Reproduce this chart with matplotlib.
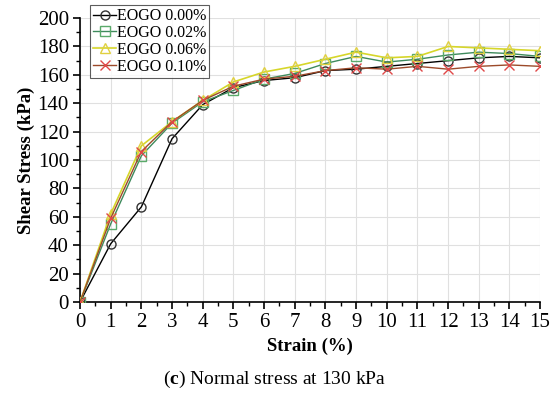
import matplotlib
matplotlib.use('Agg')
import matplotlib.pyplot as plt
from matplotlib.ticker import MultipleLocator

plt.rcParams['font.family'] = ['Liberation Serif', 'DejaVu Serif']
plt.rcParams['mathtext.fontset'] = 'custom'
plt.rcParams['mathtext.rm'] = 'Liberation Serif'
plt.rcParams['mathtext.bf'] = 'Liberation Serif:bold'

strain = [0, 1, 2, 3, 4, 5, 6, 7, 8, 9, 10, 11, 12, 13, 14, 15]
eogo_000 = [0, 41, 67, 115, 139, 151, 156, 158, 163, 164, 166, 168, 170, 172, 173, 172]
eogo_002 = [0, 55, 103, 126, 141, 149, 157, 161, 168, 173, 169, 171, 174, 176, 175, 173]
eogo_006 = [0, 62, 110, 127, 142, 155, 162, 166, 171, 176, 172, 173, 180, 179, 178, 177]
eogo_010 = [0, 59, 106, 127, 142, 152, 157, 159, 163, 165, 164, 166, 164, 166, 167, 166]
labels = ['EOGO 0.00%', 'EOGO 0.02%', 'EOGO 0.06%', 'EOGO 0.10%']

fig = plt.figure(figsize=(5.5, 3.93), dpi=100)
ax = fig.add_axes([0.1455, 0.2316, 0.8365, 0.7224])

ax.plot(strain, eogo_000, color='black', lw=1, marker='o', ms=6.5, mfc='none',
        mec='#333333', label=labels[0], zorder=3)
ax.plot(strain, eogo_002, color='#3e8a5c', lw=1, marker='s', ms=6.5, mfc='none',
        mec='#5aaa6a', label=labels[1], zorder=3)
ax.plot(strain, eogo_006, color='#d6d62a', lw=1.2, marker='^', ms=6.5, mfc='none',
        mec='#e0d040', label=labels[2], zorder=3)
ax.plot(strain, eogo_010, color='#9c4a2a', lw=1, marker='x', ms=6.5,
        mec='#e04848', label=labels[3], zorder=3)

ax.set_xlim(0, 15)
ax.set_ylim(0, 200)
ax.xaxis.set_major_locator(MultipleLocator(1))
ax.xaxis.set_minor_locator(MultipleLocator(0.5))
ax.yaxis.set_major_locator(MultipleLocator(20))
ax.yaxis.set_minor_locator(MultipleLocator(10))
ax.grid(True, which='major', color='#e0e0e0', lw=0.8)
ax.set_axisbelow(True)
for s in ['top', 'right']:
    ax.spines[s].set_visible(False)
ax.spines['left'].set_linewidth(1.2)
ax.spines['bottom'].set_linewidth(1.2)
ax.tick_params(which='major', length=5, width=1.2, labelsize=15, pad=3)
ax.tick_params(which='minor', length=3, width=1)

ax.set_xlabel('Strain (%)', fontsize=13.5, fontweight='bold', labelpad=4)
ax.set_ylabel('Shear Stress (kPa)', fontsize=13.5, fontweight='bold', labelpad=2)

leg = ax.legend(loc='upper left', bbox_to_anchor=(0.022, 1.046), fontsize=11.5,
                frameon=True, fancybox=False, edgecolor='#333333',
                handlelength=1.4, handletextpad=0.05, borderpad=0.2,
                labelspacing=0.05, borderaxespad=0)
leg.get_frame().set_linewidth(0.8)

fig.text(0.5, 0.022, r'($\mathbf{c}$) Normal stress at 130 kPa', fontsize=14,
         ha='center')

fig.savefig('out.png', dpi=100)
